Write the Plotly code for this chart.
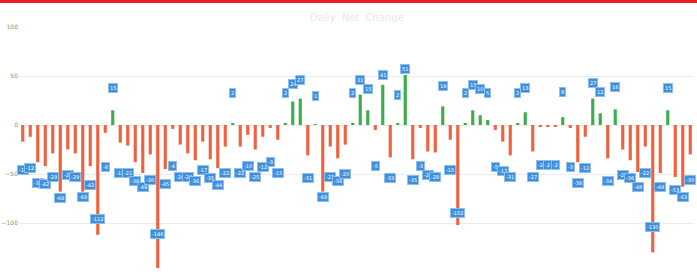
import plotly.graph_objects as go

# bar values (one per period)
values = [-17, -12, -38, -42, -29, -68, -25, -29, -68, -42,
          -112, -8, 15, -18, -21, -38, -49, -30, -146, -45,
          -4, -20, -29, -36, -17, -35, -44, -22, 2, -22,
          -10, -25, -12, -3, -15, 2, 24, 27, -31, 1,
          -68, -22, -34, -20, 2, 31, 15, -5, 41, -33,
          2, 51, -35, -3, -27, -28, 19, -15, -102, 2,
          15, 10, 5, -5, -17, -31, 2, 13, -27, -2,
          -2, -2, 8, -3, -38, -12, 27, 12, -34, 16,
          -25, -36, -48, -22, -130, -49, 15, -53, -63, -30]

# value of the labelled marker series
label_values = [-46, -44, -59, -60, -53, -74, -51, -53, -73, -61,
                -96, -43, 38, -49, -49, -57, -63, -56, -111, -60,
                -42, -53, -53, -57, -46, -54, -61, -49, 33, -49,
                -42, -53, -43, -38, -49, 33, 42, 46, -54, 30,
                -73, -53, -57, -50, 33, 46, 37, -42, 51, -54,
                31, 57, -56, -42, -51, -53, 40, -46, -90, 33,
                41, 37, 33, -43, -47, -53, 33, 38, -53, -41,
                -41, -41, 34, -43, -59, -44, 43, 34, -57, 39,
                -51, -54, -63, -49, -104, -63, 38, -66, -73, -56]

categories = list(range(len(values)))
tick_vals = [-150, -100, -50, 0, 50, 100]
title_text = "Daily  Net  Change"

RED = "#f0613f"
GREEN = "#3aae4a"
BLUE = "#3f8fdc"

colors = [GREEN if v > 0 else RED for v in values]

fig = go.Figure()
fig.add_trace(go.Bar(
    x=categories, y=values, marker=dict(color=colors, line=dict(width=0)),
    width=0.42, hoverinfo="y", showlegend=False,
))

annotations = []
for c, lv, v in zip(categories, label_values, values):
    annotations.append(dict(
        x=c, y=lv, xref="x", yref="y", text=str(v), showarrow=False,
        font=dict(size=5, color="white", family="DejaVu Sans"),
        bgcolor=BLUE, bordercolor="#8cc0ee", borderwidth=1, borderpad=1,
    ))

annotations.append(dict(
    x=0.5, y=1.0, xref="paper", yref="paper", yshift=17, text=title_text,
    showarrow=False, font=dict(size=10, color="#e8e8e8", family="DejaVu Sans"),
))

fig.update_layout(
    width=697, height=275,
    margin=dict(l=19, r=3, t=27, b=3, autoexpand=False),
    paper_bgcolor="white", plot_bgcolor="white",
    bargap=0.5,
    annotations=annotations,
    shapes=[dict(type="rect", xref="paper", yref="paper",
                 x0=-0.1, x1=1.1, y0=1 + 24/245, y1=1 + 30/245,
                 fillcolor="#ee1c24", line=dict(width=0), layer="above")],
    xaxis=dict(range=[-0.5, len(values) - 0.5], showticklabels=False,
               showgrid=False, zeroline=False, showline=False, ticks="",
               automargin=False),
    yaxis=dict(range=[-150, 100], tickvals=tick_vals, showgrid=True,
               gridcolor="#ececec", gridwidth=1, zeroline=False,
               tickfont=dict(size=6, color="#8a8a8a", family="DejaVu Sans"),
               ticks="", showline=False, automargin=False),
)

fig.write_html(
    "out.html",
    config={"displayModeBar": False},
    post_script="document.body.style.margin='0';document.body.style.padding='0';"
                "document.body.style.overflow='hidden';",
)
